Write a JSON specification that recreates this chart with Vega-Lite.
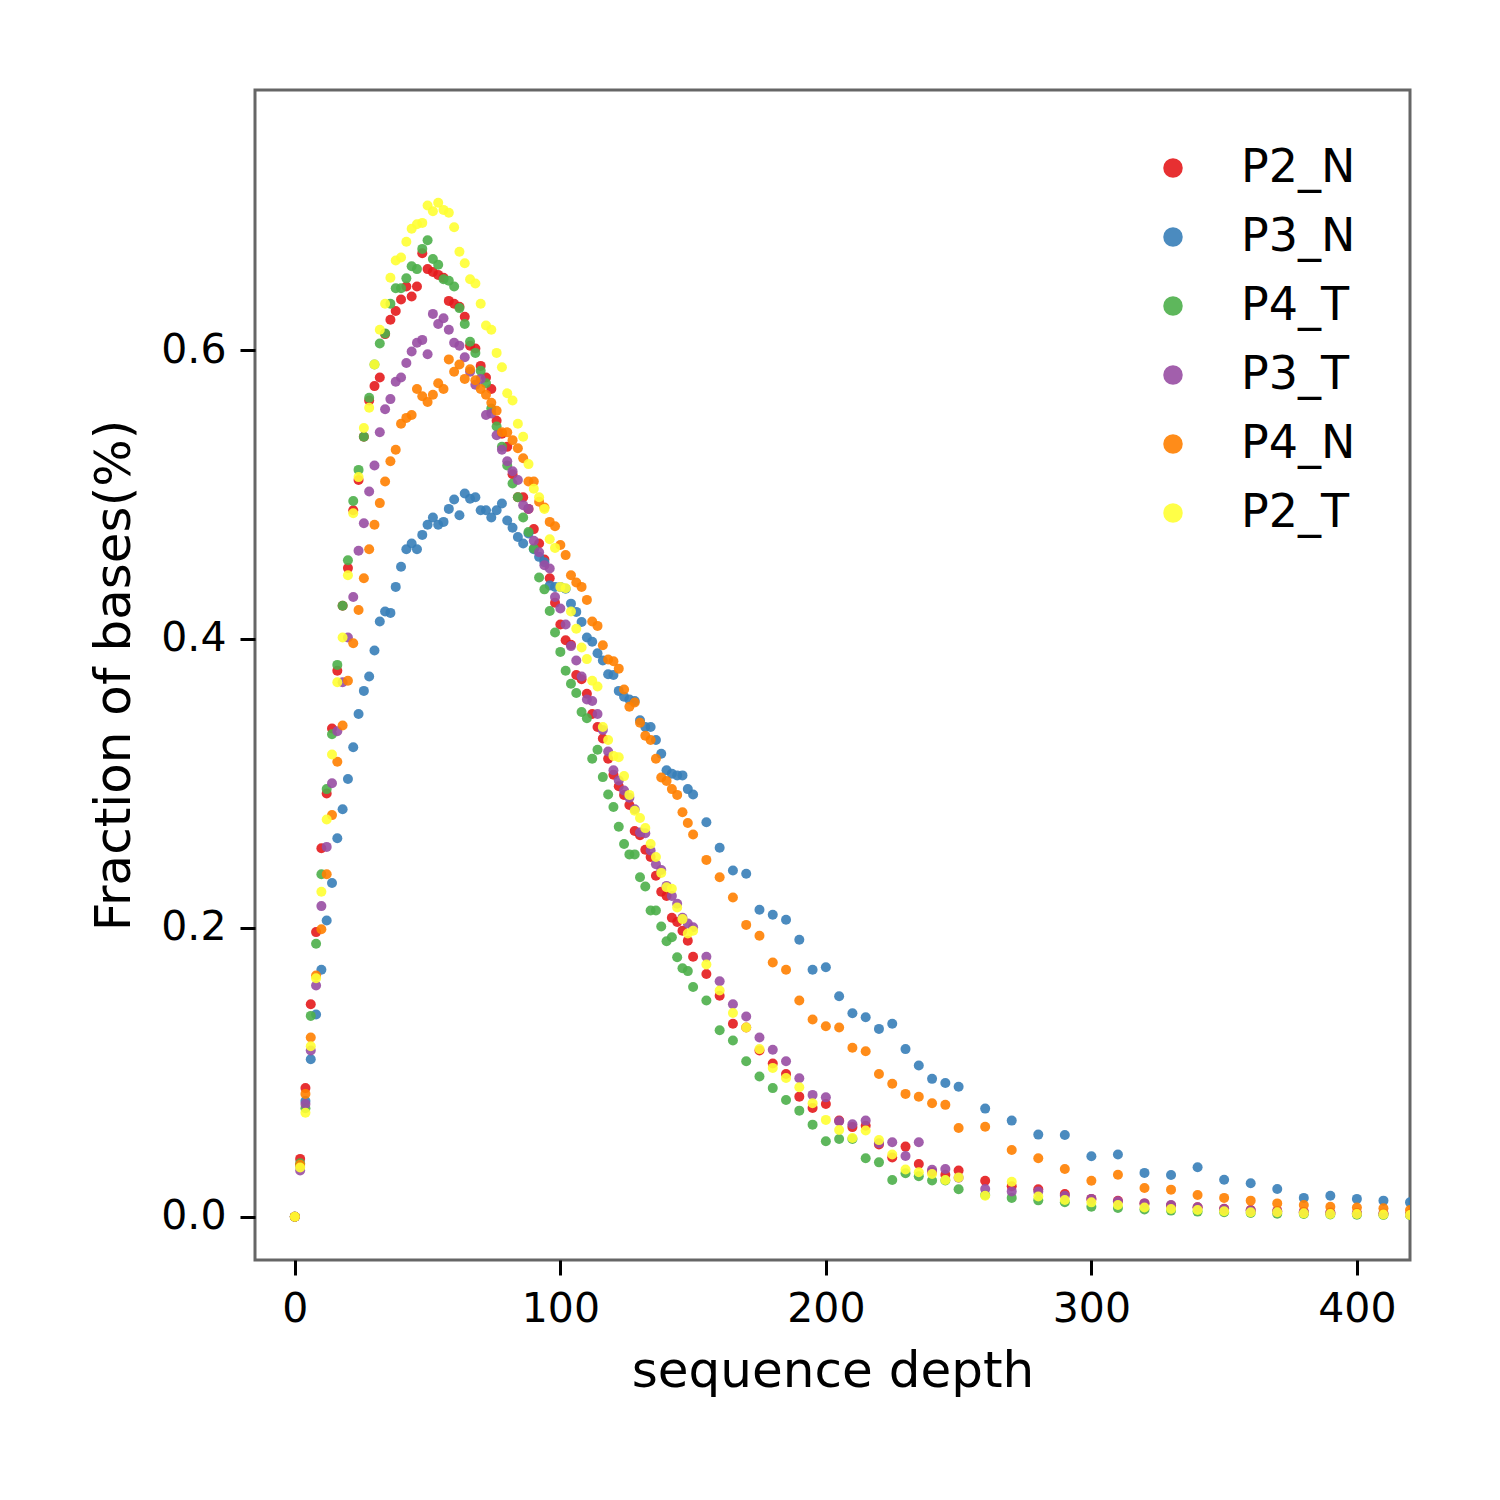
{
  "$schema": "https://vega.github.io/schema/vega-lite/v6.json",
  "autosize": {"type": "none"},
  "padding": {"left": 255, "top": 90, "right": 90, "bottom": 240},
  "background": "white",
  "config": {
    "font": "DejaVu Sans",
    "view": {"stroke": "#666666", "strokeWidth": 3}
  },
  "data": {"values": [
    {"depth":0,"P2_N":0,"P3_N":0,"P4_T":0,"P3_T":0,"P4_N":0,"P2_T":0},
    {"depth":2,"P2_N":0.040,"P3_N":0.035,"P4_T":0.037,"P3_T":0.032,"P4_N":0.036,"P2_T":0.034},
    {"depth":4,"P2_N":0.089,"P3_N":0.080,"P4_T":0.075,"P3_T":0.078,"P4_N":0.085,"P2_T":0.072},
    {"depth":6,"P2_N":0.147,"P3_N":0.109,"P4_T":0.139,"P3_T":0.115,"P4_N":0.124,"P2_T":0.118},
    {"depth":8,"P2_N":0.197,"P3_N":0.140,"P4_T":0.189,"P3_T":0.160,"P4_N":0.167,"P2_T":0.165},
    {"depth":10,"P2_N":0.255,"P3_N":0.171,"P4_T":0.237,"P3_T":0.215,"P4_N":0.199,"P2_T":0.225},
    {"depth":12,"P2_N":0.293,"P3_N":0.205,"P4_T":0.296,"P3_T":0.256,"P4_N":0.237,"P2_T":0.275},
    {"depth":14,"P2_N":0.338,"P3_N":0.231,"P4_T":0.334,"P3_T":0.300,"P4_N":0.278,"P2_T":0.320},
    {"depth":16,"P2_N":0.378,"P3_N":0.262,"P4_T":0.382,"P3_T":0.336,"P4_N":0.315,"P2_T":0.370},
    {"depth":18,"P2_N":0.423,"P3_N":0.282,"P4_T":0.423,"P3_T":0.370,"P4_N":0.340,"P2_T":0.401},
    {"depth":20,"P2_N":0.449,"P3_N":0.303,"P4_T":0.4545,"P3_T":0.401,"P4_N":0.371,"P2_T":0.444},
    {"depth":22,"P2_N":0.489,"P3_N":0.325,"P4_T":0.4955,"P3_T":0.429,"P4_N":0.397,"P2_T":0.487},
    {"depth":24,"P2_N":0.510,"P3_N":0.348,"P4_T":0.517,"P3_T":0.461,"P4_N":0.420,"P2_T":0.512},
    {"depth":26,"P2_N":0.540,"P3_N":0.364,"P4_T":0.540,"P3_T":0.480,"P4_N":0.442,"P2_T":0.546},
    {"depth":28,"P2_N":0.565,"P3_N":0.374,"P4_T":0.567,"P3_T":0.502,"P4_N":0.462,"P2_T":0.560},
    {"depth":30,"P2_N":0.575,"P3_N":0.392,"P4_T":0.590,"P3_T":0.520,"P4_N":0.479,"P2_T":0.590},
    {"depth":32,"P2_N":0.581,"P3_N":0.412,"P4_T":0.6045,"P3_T":0.543,"P4_N":0.494,"P2_T":0.614},
    {"depth":34,"P2_N":0.611,"P3_N":0.419,"P4_T":0.6115,"P3_T":0.559,"P4_N":0.509,"P2_T":0.632},
    {"depth":36,"P2_N":0.621,"P3_N":0.418,"P4_T":0.632,"P3_T":0.566,"P4_N":0.523,"P2_T":0.650},
    {"depth":38,"P2_N":0.627,"P3_N":0.436,"P4_T":0.6427,"P3_T":0.578,"P4_N":0.531,"P2_T":0.662},
    {"depth":40,"P2_N":0.635,"P3_N":0.450,"P4_T":0.6427,"P3_T":0.581,"P4_N":0.549,"P2_T":0.664},
    {"depth":42,"P2_N":0.644,"P3_N":0.462,"P4_T":0.6496,"P3_T":0.591,"P4_N":0.553,"P2_T":0.675},
    {"depth":44,"P2_N":0.637,"P3_N":0.466,"P4_T":0.658,"P3_T":0.599,"P4_N":0.555,"P2_T":0.684},
    {"depth":46,"P2_N":0.644,"P3_N":0.462,"P4_T":0.656,"P3_T":0.605,"P4_N":0.573,"P2_T":0.687},
    {"depth":48,"P2_N":0.667,"P3_N":0.472,"P4_T":0.670,"P3_T":0.607,"P4_N":0.568,"P2_T":0.688},
    {"depth":50,"P2_N":0.656,"P3_N":0.479,"P4_T":0.676,"P3_T":0.597,"P4_N":0.564,"P2_T":0.700},
    {"depth":52,"P2_N":0.654,"P3_N":0.484,"P4_T":0.663,"P3_T":0.625,"P4_N":0.569,"P2_T":0.696},
    {"depth":54,"P2_N":0.652,"P3_N":0.479,"P4_T":0.659,"P3_T":0.618,"P4_N":0.577,"P2_T":0.702},
    {"depth":56,"P2_N":0.650,"P3_N":0.481,"P4_T":0.649,"P3_T":0.622,"P4_N":0.573,"P2_T":0.697},
    {"depth":58,"P2_N":0.634,"P3_N":0.490,"P4_T":0.648,"P3_T":0.614,"P4_N":0.5935,"P2_T":0.695},
    {"depth":60,"P2_N":0.632,"P3_N":0.4965,"P4_T":0.644,"P3_T":0.605,"P4_N":0.585,"P2_T":0.685},
    {"depth":62,"P2_N":0.630,"P3_N":0.4856,"P4_T":0.629,"P3_T":0.603,"P4_N":0.590,"P2_T":0.668},
    {"depth":64,"P2_N":0.623,"P3_N":0.5007,"P4_T":0.618,"P3_T":0.595,"P4_N":0.580,"P2_T":0.660},
    {"depth":66,"P2_N":0.603,"P3_N":0.497,"P4_T":0.6057,"P3_T":0.585,"P4_N":0.5866,"P2_T":0.649},
    {"depth":68,"P2_N":0.601,"P3_N":0.498,"P4_T":0.598,"P3_T":0.576,"P4_N":0.579,"P2_T":0.646},
    {"depth":70,"P2_N":0.589,"P3_N":0.489,"P4_T":0.5856,"P3_T":0.580,"P4_N":0.573,"P2_T":0.632},
    {"depth":72,"P2_N":0.581,"P3_N":0.489,"P4_T":0.577,"P3_T":0.555,"P4_N":0.569,"P2_T":0.617},
    {"depth":74,"P2_N":0.573,"P3_N":0.484,"P4_T":0.5595,"P3_T":0.556,"P4_N":0.5635,"P2_T":0.614},
    {"depth":76,"P2_N":0.551,"P3_N":0.489,"P4_T":0.547,"P3_T":0.541,"P4_N":0.558,"P2_T":0.598},
    {"depth":78,"P2_N":0.542,"P3_N":0.4937,"P4_T":0.533,"P3_T":0.531,"P4_N":0.543,"P2_T":0.588},
    {"depth":80,"P2_N":0.533,"P3_N":0.482,"P4_T":0.520,"P3_T":0.523,"P4_N":0.543,"P2_T":0.570},
    {"depth":82,"P2_N":0.514,"P3_N":0.477,"P4_T":0.5076,"P3_T":0.516,"P4_N":0.5376,"P2_T":0.565},
    {"depth":84,"P2_N":0.498,"P3_N":0.4706,"P4_T":0.498,"P3_T":0.510,"P4_N":0.532,"P2_T":0.549},
    {"depth":86,"P2_N":0.498,"P3_N":0.466,"P4_T":0.484,"P3_T":0.4926,"P4_N":0.525,"P2_T":0.540},
    {"depth":88,"P2_N":0.490,"P3_N":0.473,"P4_T":0.474,"P3_T":0.490,"P4_N":0.509,"P2_T":0.521},
    {"depth":90,"P2_N":0.476,"P3_N":0.462,"P4_T":0.4626,"P3_T":0.468,"P4_N":0.509,"P2_T":0.504},
    {"depth":92,"P2_N":0.466,"P3_N":0.4568,"P4_T":0.4425,"P3_T":0.460,"P4_N":0.495,"P2_T":0.498},
    {"depth":94,"P2_N":0.455,"P3_N":0.453,"P4_T":0.4343,"P3_T":0.451,"P4_N":0.491,"P2_T":0.490},
    {"depth":96,"P2_N":0.442,"P3_N":0.437,"P4_T":0.4193,"P3_T":0.4487,"P4_N":0.481,"P2_T":0.469},
    {"depth":98,"P2_N":0.425,"P3_N":0.436,"P4_T":0.4044,"P3_T":0.429,"P4_N":0.478,"P2_T":0.463},
    {"depth":100,"P2_N":0.410,"P3_N":0.436,"P4_T":0.391,"P3_T":0.421,"P4_N":0.465,"P2_T":0.436},
    {"depth":102,"P2_N":0.399,"P3_N":0.4347,"P4_T":0.378,"P3_T":0.410,"P4_N":0.458,"P2_T":0.435},
    {"depth":104,"P2_N":0.396,"P3_N":0.4244,"P4_T":0.369,"P3_T":0.395,"P4_N":0.444,"P2_T":0.419},
    {"depth":106,"P2_N":0.375,"P3_N":0.4187,"P4_T":0.3625,"P3_T":0.385,"P4_N":0.439,"P2_T":0.407},
    {"depth":108,"P2_N":0.372,"P3_N":0.4117,"P4_T":0.3494,"P3_T":0.374,"P4_N":0.436,"P2_T":0.394},
    {"depth":110,"P2_N":0.362,"P3_N":0.401,"P4_T":0.345,"P3_T":0.358,"P4_N":0.427,"P2_T":0.386},
    {"depth":112,"P2_N":0.348,"P3_N":0.398,"P4_T":0.317,"P3_T":0.357,"P4_N":0.412,"P2_T":0.371},
    {"depth":114,"P2_N":0.339,"P3_N":0.390,"P4_T":0.3233,"P3_T":0.348,"P4_N":0.409,"P2_T":0.367},
    {"depth":116,"P2_N":0.331,"P3_N":0.385,"P4_T":0.3043,"P3_T":0.337,"P4_N":0.3956,"P2_T":0.339},
    {"depth":118,"P2_N":0.317,"P3_N":0.3755,"P4_T":0.2923,"P3_T":0.322,"P4_N":0.3857,"P2_T":0.330},
    {"depth":120,"P2_N":0.306,"P3_N":0.375,"P4_T":0.2836,"P3_T":0.309,"P4_N":0.3845,"P2_T":0.319},
    {"depth":122,"P2_N":0.298,"P3_N":0.364,"P4_T":0.270,"P3_T":0.302,"P4_N":0.3794,"P2_T":0.318},
    {"depth":124,"P2_N":0.292,"P3_N":0.360,"P4_T":0.258,"P3_T":0.295,"P4_N":0.365,"P2_T":0.305},
    {"depth":126,"P2_N":0.285,"P3_N":0.358,"P4_T":0.2508,"P3_T":0.290,"P4_N":0.353,"P2_T":0.292},
    {"depth":128,"P2_N":0.267,"P3_N":0.357,"P4_T":0.2508,"P3_T":0.282,"P4_N":0.356,"P2_T":0.281},
    {"depth":130,"P2_N":0.264,"P3_N":0.3436,"P4_T":0.235,"P3_T":0.266,"P4_N":0.342,"P2_T":0.276},
    {"depth":132,"P2_N":0.254,"P3_N":0.339,"P4_T":0.2286,"P3_T":0.2655,"P4_N":0.333,"P2_T":0.269},
    {"depth":134,"P2_N":0.249,"P3_N":0.339,"P4_T":0.212,"P3_T":0.2535,"P4_N":0.330,"P2_T":0.258},
    {"depth":136,"P2_N":0.236,"P3_N":0.330,"P4_T":0.212,"P3_T":0.244,"P4_N":0.317,"P2_T":0.249},
    {"depth":138,"P2_N":0.225,"P3_N":0.3205,"P4_T":0.2009,"P3_T":0.240,"P4_N":0.304,"P2_T":0.238},
    {"depth":140,"P2_N":0.222,"P3_N":0.309,"P4_T":0.1907,"P3_T":0.229,"P4_N":0.3016,"P2_T":0.228},
    {"depth":142,"P2_N":0.207,"P3_N":0.3067,"P4_T":0.1935,"P3_T":0.222,"P4_N":0.296,"P2_T":0.227},
    {"depth":144,"P2_N":0.204,"P3_N":0.3055,"P4_T":0.1796,"P3_T":0.2166,"P4_N":0.292,"P2_T":0.214},
    {"depth":146,"P2_N":0.198,"P3_N":0.3055,"P4_T":0.172,"P3_T":0.207,"P4_N":0.280,"P2_T":0.206},
    {"depth":148,"P2_N":0.191,"P3_N":0.296,"P4_T":0.170,"P3_T":0.203,"P4_N":0.2725,"P2_T":0.196},
    {"depth":150,"P2_N":0.180,"P3_N":0.2923,"P4_T":0.159,"P3_T":0.2004,"P4_N":0.2646,"P2_T":0.198},
    {"depth":155,"P2_N":0.168,"P3_N":0.273,"P4_T":0.1496,"P3_T":0.180,"P4_N":0.247,"P2_T":0.1746},
    {"depth":160,"P2_N":0.153,"P3_N":0.2554,"P4_T":0.129,"P3_T":0.163,"P4_N":0.235,"P2_T":0.1566},
    {"depth":165,"P2_N":0.1335,"P3_N":0.2397,"P4_T":0.122,"P3_T":0.147,"P4_N":0.221,"P2_T":0.141},
    {"depth":170,"P2_N":0.131,"P3_N":0.2374,"P4_T":0.1076,"P3_T":0.1386,"P4_N":0.202,"P2_T":0.131},
    {"depth":175,"P2_N":0.115,"P3_N":0.2125,"P4_T":0.097,"P3_T":0.124,"P4_N":0.1945,"P2_T":0.116},
    {"depth":180,"P2_N":0.106,"P3_N":0.209,"P4_T":0.089,"P3_T":0.1155,"P4_N":0.176,"P2_T":0.103},
    {"depth":185,"P2_N":0.0988,"P3_N":0.2055,"P4_T":0.0808,"P3_T":0.1076,"P4_N":0.171,"P2_T":0.096},
    {"depth":190,"P2_N":0.0831,"P3_N":0.1917,"P4_T":0.0734,"P3_T":0.0958,"P4_N":0.1496,"P2_T":0.0896},
    {"depth":195,"P2_N":0.0753,"P3_N":0.171,"P4_T":0.0637,"P3_T":0.0843,"P4_N":0.1365,"P2_T":0.0785},
    {"depth":200,"P2_N":0.078,"P3_N":0.1727,"P4_T":0.0522,"P3_T":0.0826,"P4_N":0.1318,"P2_T":0.067},
    {"depth":205,"P2_N":0.0665,"P3_N":0.1526,"P4_T":0.0538,"P3_T":0.066,"P4_N":0.131,"P2_T":0.060},
    {"depth":210,"P2_N":0.062,"P3_N":0.1408,"P4_T":0.0538,"P3_T":0.064,"P4_N":0.1169,"P2_T":0.0545},
    {"depth":215,"P2_N":0.063,"P3_N":0.138,"P4_T":0.0404,"P3_T":0.0665,"P4_N":0.1145,"P2_T":0.0596},
    {"depth":220,"P2_N":0.050,"P3_N":0.130,"P4_T":0.0376,"P3_T":0.0508,"P4_N":0.0988,"P2_T":0.053},
    {"depth":225,"P2_N":0.041,"P3_N":0.1335,"P4_T":0.0254,"P3_T":0.0515,"P4_N":0.092,"P2_T":0.043},
    {"depth":230,"P2_N":0.0485,"P3_N":0.116,"P4_T":0.030,"P3_T":0.042,"P4_N":0.085,"P2_T":0.0326},
    {"depth":235,"P2_N":0.0365,"P3_N":0.1046,"P4_T":0.028,"P3_T":0.0515,"P4_N":0.083,"P2_T":0.0307},
    {"depth":240,"P2_N":0.031,"P3_N":0.0954,"P4_T":0.025,"P3_T":0.0324,"P4_N":0.0785,"P2_T":0.0296},
    {"depth":245,"P2_N":0.029,"P3_N":0.0926,"P4_T":0.025,"P3_T":0.033,"P4_N":0.0774,"P2_T":0.0254},
    {"depth":250,"P2_N":0.032,"P3_N":0.090,"P4_T":0.019,"P3_T":0.027,"P4_N":0.0614,"P2_T":0.0272},
    {"depth":260,"P2_N":0.0249,"P3_N":0.0748,"P4_T":0.015,"P3_T":0.0192,"P4_N":0.0623,"P2_T":0.0145},
    {"depth":270,"P2_N":0.021,"P3_N":0.0665,"P4_T":0.013,"P3_T":0.0175,"P4_N":0.0462,"P2_T":0.0242},
    {"depth":280,"P2_N":0.019,"P3_N":0.0568,"P4_T":0.0113,"P3_T":0.0175,"P4_N":0.0404,"P2_T":0.0139},
    {"depth":290,"P2_N":0.0157,"P3_N":0.0566,"P4_T":0.010,"P3_T":0.0145,"P4_N":0.033,"P2_T":0.0115},
    {"depth":300,"P2_N":0.0123,"P3_N":0.0418,"P4_T":0.0069,"P3_T":0.0123,"P4_N":0.0249,"P2_T":0.0099},
    {"depth":310,"P2_N":0.011,"P3_N":0.043,"P4_T":0.006,"P3_T":0.0106,"P4_N":0.029,"P2_T":0.0081},
    {"depth":320,"P2_N":0.0092,"P3_N":0.0303,"P4_T":0.005,"P3_T":0.0092,"P4_N":0.0199,"P2_T":0.0064},
    {"depth":330,"P2_N":0.0078,"P3_N":0.0289,"P4_T":0.0042,"P3_T":0.008,"P4_N":0.0187,"P2_T":0.0053},
    {"depth":340,"P2_N":0.0065,"P3_N":0.0342,"P4_T":0.0035,"P3_T":0.0065,"P4_N":0.015,"P2_T":0.0046},
    {"depth":350,"P2_N":0.0055,"P3_N":0.0256,"P4_T":0.003,"P3_T":0.0053,"P4_N":0.013,"P2_T":0.0037},
    {"depth":360,"P2_N":0.0046,"P3_N":0.0231,"P4_T":0.0025,"P3_T":0.0042,"P4_N":0.0111,"P2_T":0.003},
    {"depth":370,"P2_N":0.004,"P3_N":0.0192,"P4_T":0.0021,"P3_T":0.0035,"P4_N":0.0092,"P2_T":0.003},
    {"depth":380,"P2_N":0.0033,"P3_N":0.013,"P4_T":0.0018,"P3_T":0.003,"P4_N":0.0081,"P2_T":0.0023},
    {"depth":390,"P2_N":0.0028,"P3_N":0.0145,"P4_T":0.0015,"P3_T":0.0026,"P4_N":0.0069,"P2_T":0.0018},
    {"depth":400,"P2_N":0.0025,"P3_N":0.0123,"P4_T":0.0013,"P3_T":0.0023,"P4_N":0.0064,"P2_T":0.0018},
    {"depth":410,"P2_N":0.0021,"P3_N":0.0111,"P4_T":0.0011,"P3_T":0.002,"P4_N":0.0058,"P2_T":0.0015},
    {"depth":420,"P2_N":0.0017,"P3_N":0.0099,"P4_T":0.001,"P3_T":0.0016,"P4_N":0.0046,"P2_T":0.0012}
  ]},
  "repeat": {"layer": ["P2_N", "P3_N", "P4_T", "P3_T", "P4_N", "P2_T"]},
  "spec": {
    "width": 1155,
    "height": 1170,
    "mark": {"type": "point", "filled": true, "size": 100, "opacity": 0.9, "clip": true, "strokeWidth": 0},
    "encoding": {
      "x": {
        "field": "depth",
        "type": "quantitative",
        "scale": {"domain": [-15, 420], "nice": false, "zero": false},
        "axis": {
          "title": "sequence depth",
          "values": [0, 100, 200, 300, 400],
          "grid": false,
          "domain": false,
          "tickSize": 15,
          "tickWidth": 3,
          "tickColor": "black",
          "labelFontSize": 41,
          "labelColor": "black",
          "labelPadding": 14,
          "titleFontSize": 50,
          "titleFontWeight": "normal",
          "titleColor": "black",
          "titleBaseline": "alphabetic",
          "titleY": 126
        }
      },
      "y": {
        "field": {"repeat": "layer"},
        "type": "quantitative",
        "scale": {"domain": [-0.03, 0.78], "nice": false, "zero": false},
        "axis": {
          "title": "Fraction of bases(%)",
          "values": [0, 0.2, 0.4, 0.6],
          "format": ".1f",
          "grid": false,
          "domain": false,
          "tickSize": 15,
          "tickWidth": 3,
          "tickColor": "black",
          "labelFontSize": 41,
          "labelColor": "black",
          "labelPadding": 14,
          "titleFontSize": 50,
          "titleFontWeight": "normal",
          "titleColor": "black",
          "titleBaseline": "alphabetic",
          "titleX": -126
        }
      },
      "color": {
        "datum": {"repeat": "layer"},
        "type": "nominal",
        "scale": {
          "domain": ["P2_N", "P3_N", "P4_T", "P3_T", "P4_N", "P2_T"],
          "range": ["#e41a1c", "#377eb8", "#4daf4a", "#984ea3", "#ff7f00", "#ffff33"]
        },
        "legend": {
          "title": null,
          "orient": "none",
          "legendX": 895,
          "legendY": 55,
          "padding": 0,
          "symbolType": "circle",
          "symbolSize": 380,
          "symbolOpacity": 0.9,
          "symbolStrokeWidth": 0,
          "labelFontSize": 46,
          "labelColor": "black",
          "labelOffset": 45,
          "rowPadding": 23
        }
      }
    }
  }
}
